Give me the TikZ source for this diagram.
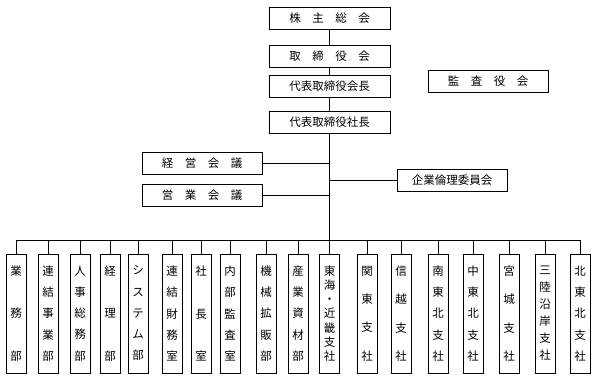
\documentclass[tikz,border=0pt]{standalone}
\usepackage{fontspec}
\newfontfamily\jp{Noto Sans CJK JP}
\usetikzlibrary{positioning}

\begin{document}
\begin{tikzpicture}[x=1pt, y=-1pt, line width=0.8pt, every node/.style={font=\jp\fontsize{11.5}{14}\selectfont}, box/.style={draw, minimum height=22pt, minimum width=121pt, inner sep=0pt}, bu/.style={draw, minimum width=20pt, minimum height=119pt, inner sep=0pt, align=center, font=\jp\fontsize{11.5}{#1}\selectfont}]

    \useasboundingbox (0,0) rectangle (596,381);

    \node[box] (soukai) at (329.5,18) {株\quad 主\quad 総\quad 会};
    \node[box] (torishimari) at (329.5,56) {取\quad 締\quad 役\quad 会};
    \node[box] (kaicho) at (329.5,86.5) {代表取締役会長};
    \node[box] (shacho) at (329.5,122.5) {代表取締役社長};
    \node[box, minimum width=120pt] (kansa) at (488,81) {監\quad 査\quad 役\quad 会};
    \node[box, minimum width=120pt] (keiei) at (202,163) {経\quad 営\quad 会\quad 議};
    \node[box, minimum width=120pt] (eigyo) at (202,195.5) {営\quad 業\quad 会\quad 議};
    \node[box, minimum width=110pt] (rinri) at (452,180.5) {企業倫理委員会};

    \coordinate (bunki) at (329.5,240);

    \draw (soukai) -- (torishimari);
    \draw (torishimari) -- (kaicho);
    \draw (kaicho) -- (shacho);
    \draw (shacho) -- (bunki);
    \draw (keiei) -- (keiei -| shacho);
    \draw (eigyo) -- (eigyo -| shacho);
    \draw (rinri) -- (rinri -| shacho);

    % bumon
    \foreach \x/\s/\t [count=\i] in {16/42.5/業\\務\\部, 48/21.25/連\\結\\事\\業\\部, 80/21.25/人\\事\\総\\務\\部, 110/42.5/経\\理\\部, 138/21.25/シ\\ス\\テ\\ム\\部, 172/21.25/連\\結\\財\\務\\室, 201/42.5/社\\長\\室, 230/21.25/内\\部\\監\\査\\室, 266/21.25/機\\械\\拡\\販\\部, 298/21.25/産\\業\\資\\材\\部, 329.5/14.17/東\\海\\・\\近\\畿\\支\\社, 367/28.33/関\\東\\支\\社, 401/28.33/信\\越\\支\\社, 438/21.25/南\\東\\北\\支\\社, 473/21.25/中\\東\\北\\支\\社, 509/28.33/宮\\城\\支\\社, 545/17/三\\陸\\沿\\岸\\支\\社, 580/21.25/北\\東\\北\\支\\社}
        \node[bu=\s] (b\i) at (\x,313.5) {\t};

    \draw (b1 |- bunki) -- (b18 |- bunki);
    \foreach \i in {1,...,18}
        \draw (b\i) -- (b\i |- bunki);
\end{tikzpicture}
\end{document}
